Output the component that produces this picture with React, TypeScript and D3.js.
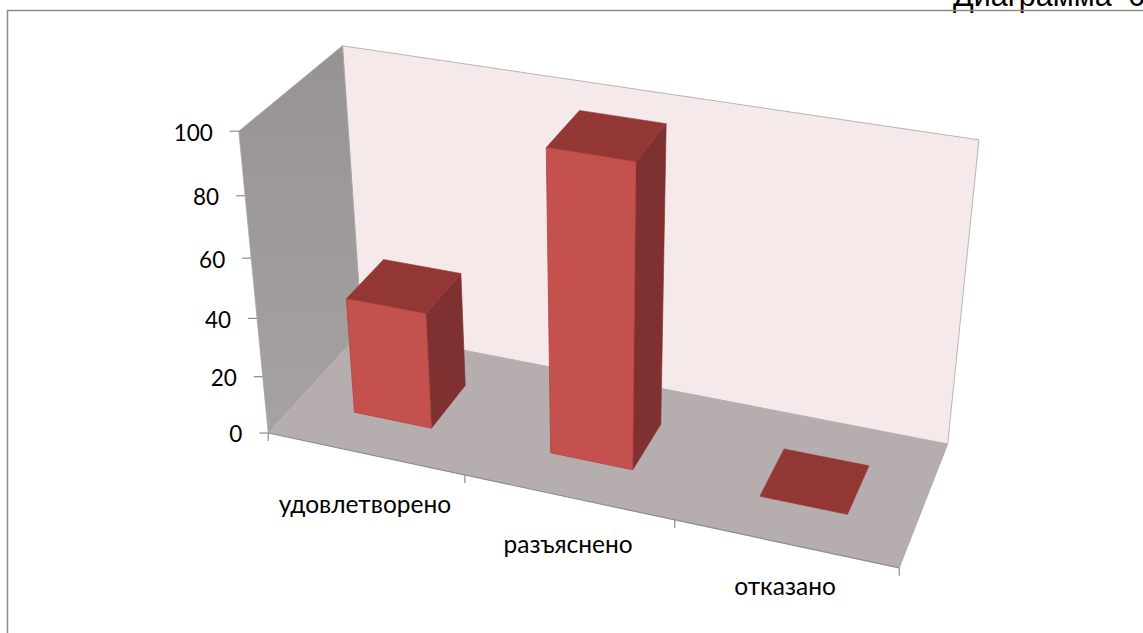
import React from "react";
import * as d3 from "d3";

const categories = ["удовлетворено", "разъяснено", "отказано"];
const values = [40, 100, 0];
const tickValues = [0, 20, 40, 60, 80, 100];
const titleText = "Диаграмма 6";

// Camera calibration: world (u, value, w) -> page (x, y)
const anchorWorld = [
  [0, 0, 0], [1, 0, 0], [0, 0, 1], [1, 0, 1], [0, 100, 0], [0, 100, 1], [1, 100, 1],
  [0, 20, 0], [0, 40, 0], [0, 60, 0], [0, 80, 0], [1 / 3, 0, 0], [2 / 3, 0, 0],
];
const anchorPage = [
  [269, 433], [899, 568], [361, 331], [948, 443], [239, 131], [343, 46], [979, 140],
  [263, 376], [257, 318], [250, 258], [245, 196], [466, 475], [674, 521],
];

const vScale = d3.scaleLinear().domain([0, 100]).range([0, 1]);
const uBand = d3.scaleBand<string>().domain(categories).range([0, 1]).paddingInner(0.6).paddingOuter(0.3);
const depth = d3.scaleLinear().domain([0, 1]).range([0.3, 0.7]);
const labelDrop = d3.scaleLinear().domain([0, 1]).range([61, 50]);

function solveCamera(): number[] {
  const n = 11;
  const A: number[][] = Array.from({ length: n }, () => new Array(n + 1).fill(0));
  const addRow = (r: number[], b: number) => {
    for (let i = 0; i < n; i++) {
      for (let j = 0; j < n; j++) A[i][j] += r[i] * r[j];
      A[i][n] += r[i] * b;
    }
  };
  anchorWorld.forEach(([u, val, w], i) => {
    const v = vScale(val);
    const x = anchorPage[i][0] / 1000, y = anchorPage[i][1] / 1000;
    addRow([u, v, w, 1, 0, 0, 0, 0, -x * u, -x * v, -x * w], x);
    addRow([0, 0, 0, 0, u, v, w, 1, -y * u, -y * v, -y * w], y);
  });
  for (let c = 0; c < n; c++) {
    let p = c;
    for (let r = c + 1; r < n; r++) if (Math.abs(A[r][c]) > Math.abs(A[p][c])) p = r;
    [A[c], A[p]] = [A[p], A[c]];
    for (let r = 0; r < n; r++) {
      if (r === c) continue;
      const f = A[r][c] / A[c][c];
      for (let k = c; k <= n; k++) A[r][k] -= f * A[c][k];
    }
  }
  return A.map((row, i) => row[n] / row[i]);
}
const cam = solveCamera();
function project(u: number, val: number, w: number): [number, number] {
  const v = vScale(val);
  const d = cam[8] * u + cam[9] * v + cam[10] * w + 1;
  return [
    (1000 * (cam[0] * u + cam[1] * v + cam[2] * w + cam[3])) / d,
    (1000 * (cam[4] * u + cam[5] * v + cam[6] * w + cam[7])) / d,
  ];
}
const poly = (pts: [number, number][]) => d3.line()(pts)! + "Z";

const LABEL_FONT = "Lato, Carlito, 'Open Sans', sans-serif";

export default function App() {
  const yMax = 100;
  const wallEdge = "#a6a6a6";
  return (
    <svg width={1143} height={633} style={{ position: "absolute", left: 0, top: 0, background: "#fff" }}>
      <defs>
        <linearGradient id="sideWall" x1="0" y1="0" x2="0" y2="1">
          <stop offset="0" stopColor="#989393" />
          <stop offset="1" stopColor="#a6a2a2" />
        </linearGradient>
      </defs>
      <text x={953} y={6} fontFamily="'Liberation Sans', Arial, sans-serif" fontSize={30.5} wordSpacing={8} fill="#000">{titleText}</text>
      <rect x={7.5} y={10.5} width={1200} height={700} fill="none" stroke="#8c8c8c" strokeWidth={1.5} />

      <path d={poly([project(0, 0, 1), project(1, 0, 1), project(1, yMax, 1), project(0, yMax, 1)])} fill="#f5e9e9" stroke={wallEdge} strokeWidth={0.8} />
      <path d={poly([project(0, 0, 0), project(0, 0, 1), project(0, yMax, 1), project(0, yMax, 0)])} fill="url(#sideWall)" stroke={wallEdge} strokeWidth={0.8} />
      <path d={poly([project(0, 0, 0), project(1, 0, 0), project(1, 0, 1), project(0, 0, 1)])} fill="#b5adae" stroke="none" />
      <path d={d3.line()([project(0, 0, 0), project(1, 0, 0)])!} stroke="#8c8c8c" strokeWidth={1.2} fill="none" />
      <path d={d3.line()([project(1, 0, 0), project(1, 0, 1)])!} stroke="#a6a6a6" strokeWidth={0.8} fill="none" />

      {tickValues.map((t) => {
        const [x, y] = project(0, t, 0);
        return (
          <g key={t}>
            <line x1={x - 9} x2={x} y1={y} y2={y} stroke="#8c8c8c" strokeWidth={1.2} />
            <text x={x - 26} y={y + 1.5} dy="0.35em" textAnchor="end" fontFamily={LABEL_FONT} fontSize={22.5} fill="#000">{t}</text>
          </g>
        );
      })}

      {[0, 1, 2, 3].map((i) => {
        const [x, y] = project(i / 3, 0, 0);
        return <line key={i} x1={x} x2={x} y1={y} y2={y + 8} stroke="#8c8c8c" strokeWidth={1.2} />;
      })}

      {categories.map((c, i) => {
        const u0 = uBand(c)!;
        const u1 = u0 + uBand.bandwidth();
        const w0 = depth(0), w1 = depth(1);
        const v = values[i];
        const front = poly([project(u0, 0, w0), project(u1, 0, w0), project(u1, v, w0), project(u0, v, w0)]);
        const side = poly([project(u1, 0, w0), project(u1, 0, w1), project(u1, v, w1), project(u1, v, w0)]);
        const top = poly([project(u0, v, w0), project(u1, v, w0), project(u1, v, w1), project(u0, v, w1)]);
        return (
          <g key={c}>
            {v > 0 && <path d={side} fill="#7f3030" stroke="#7f3030" strokeWidth={0.6} />}
            <path d={top} fill="#933735" stroke="#933735" strokeWidth={0.6} />
            {v > 0 && <path d={front} fill="#c4514d" stroke="#b5423f" strokeWidth={0.8} />}
          </g>
        );
      })}

      {categories.map((c, i) => {
        const uc = (i + 0.5) / 3;
        const [x, y] = project(uc, 0, 0);
        return (
          <text key={c} x={x} y={y + labelDrop(uc)} textAnchor="middle" fontFamily={LABEL_FONT} fontSize={24.5} fill="#000">{c}</text>
        );
      })}
    </svg>
  );
}
